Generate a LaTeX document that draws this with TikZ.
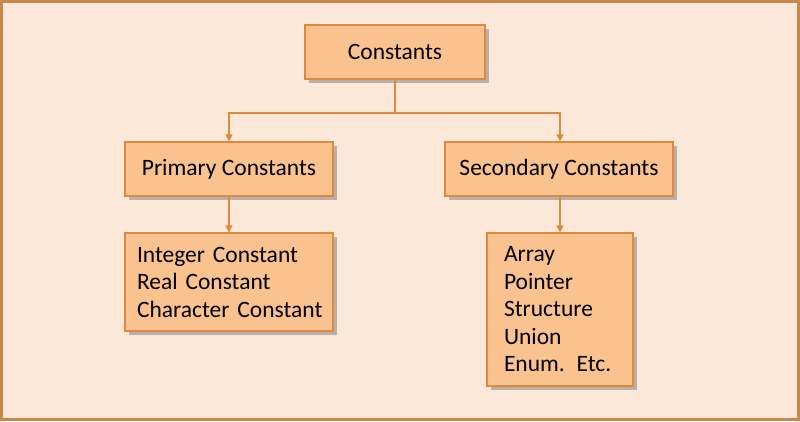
\documentclass[tikz,border=0pt]{standalone}
\usepackage{fontspec}
\setmainfont{Carlito}
\usetikzlibrary{arrows.meta,shadows}
\definecolor{bg}{HTML}{FCE8D8}
\definecolor{boxf}{HTML}{FAC28E}
\definecolor{boxd}{HTML}{DE8A3E}
\definecolor{frame}{HTML}{C9874A}
\tikzset{
 cbox/.style={draw=boxd,fill=boxf,line width=1.2pt,drop shadow={shadow xshift=4pt,shadow yshift=-4pt,fill=black!45,opacity=0.6},font=\fontsize{23.5}{27.5}\selectfont,inner sep=0pt},
 conn/.style={draw=boxd,line width=1.2pt},
 arr/.style={conn,-{Triangle[length=7pt,width=7pt]}}
}
\newcommand{\ind}{\hspace*{8pt}}
\begin{document}
\begin{tikzpicture}[x=1pt,y=-1pt]
\useasboundingbox (0,0) rectangle (800,421);
\fill[bg] (0,0) rectangle (800,421);
\draw[frame,line width=3pt] (1.5,1.5) rectangle (798.5,419.5);
\node[cbox,minimum width=180pt,minimum height=54pt] (c) at (395,52) {Constants};
\node[cbox,minimum width=208pt,minimum height=54pt] (p) at (229,169) {Primary Constants};
\node[cbox,minimum width=228pt,minimum height=54pt] (s) at (559,169) {Secondary Constants};
\node[cbox,minimum width=208pt,minimum height=98pt,align=left,text width=200pt] (i) at (229,282) {\ind Integer Constant\\\ind Real Constant\\\ind Character Constant};
\node[cbox,minimum width=146pt,minimum height=153pt,align=left,text width=128pt] (a) at (560,309.5) {\ind Array\\\ind Pointer\\\ind Structure\\\ind Union\\\ind Enum. Etc.};
\coordinate (j) at (395,113);
\draw[conn] (c.south) -- (j);
\draw[arr] (j) -| (p.north);
\draw[arr] (j) -| (s.north -| a.north);
\draw[arr] (p.south) -- (i.north);
\draw[arr] (s.south -| a.north) -- (a.north);
\end{tikzpicture}
\end{document}
